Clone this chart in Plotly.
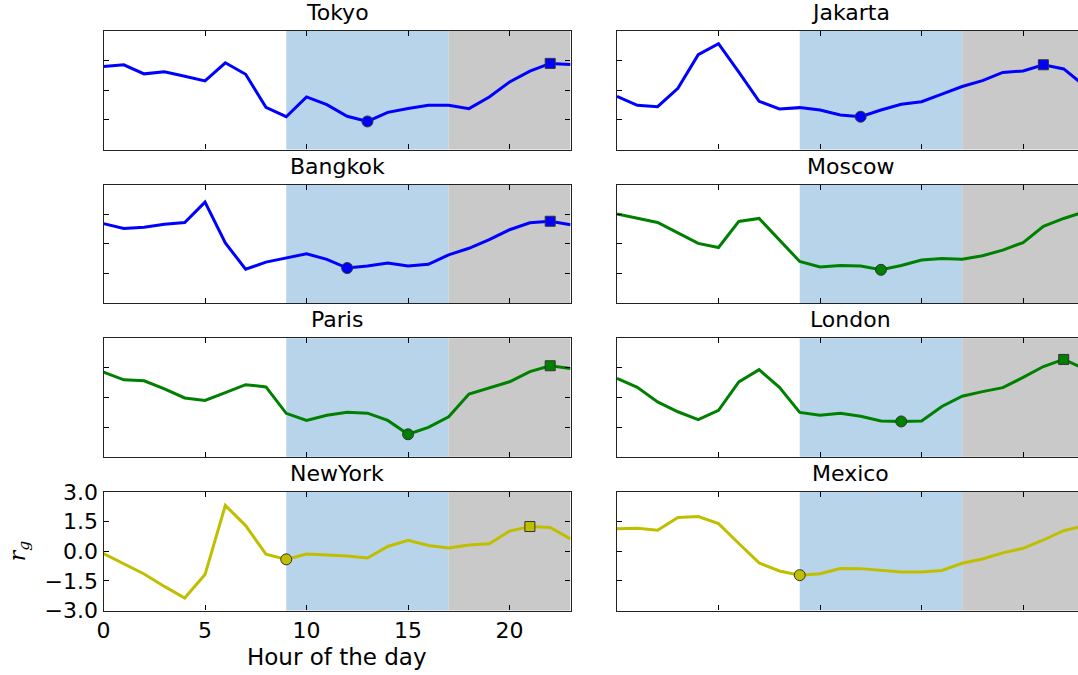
import plotly.graph_objects as go

W, H = 1078, 675

hours = list(range(24))

cities = ["Tokyo", "Jakarta", "Bangkok", "Moscow", "Paris", "London", "NewYork", "Mexico"]

tokyo = [1.20, 1.29, 0.83, 0.93, 0.71, 0.47, 1.39, 0.81, -0.86, -1.34, -0.34, -0.73,
         -1.32, -1.58, -1.12, -0.92, -0.76, -0.76, -0.93, -0.34, 0.42, 0.97, 1.36, 1.31]
jakarta = [-0.31, -0.76, -0.83, 0.10, 1.80, 2.36, 0.92, -0.56, -0.95, -0.88, -1.00, -1.25,
           -1.34, -1.00, -0.71, -0.58, -0.20, 0.19, 0.49, 0.90, 0.98, 1.29, 1.08, 0.25]
bangkok = [1.03, 0.78, 0.85, 1.00, 1.08, 2.12, 0.05, -1.28, -0.92, -0.70, -0.50, -0.78,
           -1.22, -1.12, -0.97, -1.12, -1.03, -0.55, -0.22, 0.22, 0.72, 1.07, 1.15, 0.97]
moscow = [1.52, 1.31, 1.09, 0.56, 0.03, -0.18, 1.14, 1.29, 0.18, -0.89, -1.17, -1.09,
          -1.12, -1.31, -1.09, -0.81, -0.74, -0.78, -0.60, -0.31, 0.07, 0.89, 1.29, 1.62]
paris = [1.29, 0.90, 0.85, 0.44, -0.02, -0.15, 0.25, 0.65, 0.54, -0.80, -1.16, -0.90,
         -0.75, -0.79, -1.16, -1.86, -1.51, -0.97, 0.18, 0.50, 0.80, 1.31, 1.61, 1.47]
london = [0.97, 0.52, -0.22, -0.72, -1.12, -0.65, 0.79, 1.41, 0.52, -0.75, -0.90, -0.79,
          -0.95, -1.19, -1.21, -1.19, -0.45, 0.07, 0.30, 0.50, 1.02, 1.57, 1.93, 1.46]
newyork = [-0.12, -0.62, -1.15, -1.78, -2.37, -1.18, 2.32, 1.30, -0.15, -0.41, -0.14, -0.19,
           -0.24, -0.34, 0.24, 0.55, 0.29, 0.17, 0.32, 0.38, 1.02, 1.25, 1.20, 0.62]
mexico = [1.14, 1.17, 1.06, 1.71, 1.76, 1.40, 0.39, -0.59, -1.00, -1.21, -1.14, -0.87,
          -0.88, -0.95, -1.05, -1.05, -0.97, -0.61, -0.39, -0.08, 0.15, 0.57, 1.04, 1.29]

series = [tokyo, jakarta, bangkok, moscow, paris, london, newyork, mexico]
line_colors = ["#0000ff", "#0000ff", "#0000ff", "#008000", "#008000", "#008000", "#bfbf00", "#bfbf00"]

work_start, work_end, day_end = 9, 17, 23
y_ticks = [-3.0, -1.5, 0.0, 1.5, 3.0]
y_tick_labels = ["\u22123.0", "\u22121.5", "0.0", "1.5", "3.0"]
x_ticks = [0, 5, 10, 15, 20]

# layout geometry (pixels)
col_left = [103.5, 617.0]
col_right = [570.5, 1078.0]
row_top = [31.0, 184.7, 338.3, 492.0]
row_h = 118.5
px_per_hour = (col_right[0] - col_left[0]) / 23.0
right_max = (col_right[1] - col_left[1]) / px_per_hour

fig = go.Figure()
layout = dict(
    width=W, height=H, margin=dict(l=0, r=0, t=0, b=0),
    paper_bgcolor="white", plot_bgcolor="white", showlegend=False,
    font=dict(family="DejaVu Sans", color="black"),
)
shapes = []
annotations = []

for i, (name, vals, col) in enumerate(zip(cities, series, line_colors)):
    r, c = divmod(i, 2)
    k = i + 1
    xa = "xaxis" if k == 1 else f"xaxis{k}"
    ya = "yaxis" if k == 1 else f"yaxis{k}"
    xr = "x" if k == 1 else f"x{k}"
    yr = "y" if k == 1 else f"y{k}"
    top = row_top[r]
    bot = top + row_h
    dom_x = [col_left[c] / W, col_right[c] / W]
    dom_y = [1 - bot / H, 1 - top / H]
    bottom_left = (r == 3 and c == 0)
    xmax = 23 if c == 0 else right_max
    layout[xa] = dict(
        domain=dom_x, range=[0, xmax], anchor=yr, tickvals=x_ticks,
        showticklabels=bottom_left, ticks="inside", ticklen=5, tickcolor="black",
        showline=True, linecolor="#222", linewidth=1.3, mirror="ticks",
        showgrid=False, zeroline=False, automargin=False,
        tickfont=dict(size=22, family="DejaVu Sans"),
    )
    layout[ya] = dict(
        domain=dom_y, range=[-3, 3], anchor=xr, tickvals=y_ticks, ticktext=y_tick_labels,
        showticklabels=bottom_left, ticks="inside", ticklen=5, tickcolor="black",
        showline=True, linecolor="#222", linewidth=1.3,
        mirror=("ticks" if c == 0 else False),
        showgrid=False, zeroline=False, automargin=False,
        tickfont=dict(size=22, family="DejaVu Sans"),
    )
    shapes.append(dict(type="rect", xref=xr, yref=f"{yr} domain", x0=work_start, x1=work_end,
                       y0=0, y1=1, fillcolor="#b8d4ea", line=dict(width=0), layer="below"))
    shapes.append(dict(type="rect", xref=xr, yref=f"{yr} domain", x0=work_end, x1=min(day_end, xmax),
                       y0=0, y1=1, fillcolor="#c9c9c9", line=dict(width=0), layer="below"))
    fig.add_trace(go.Scatter(x=hours, y=vals, mode="lines", line=dict(color=col, width=3),
                             xaxis=xr, yaxis=yr, hoverinfo="skip"))
    # minimum during working hours (circle), maximum during evening (square)
    work_idx = [h for h in hours if work_start <= h <= work_end]
    eve_idx = [h for h in hours if work_end <= h <= day_end]
    hmin = min(work_idx, key=lambda h: vals[h])
    hmax = max(eve_idx, key=lambda h: vals[h])
    fig.add_trace(go.Scatter(x=[hmin], y=[vals[hmin]], mode="markers",
                             marker=dict(symbol="circle", size=11, color=col,
                                         line=dict(color="#333", width=1)),
                             xaxis=xr, yaxis=yr, hoverinfo="skip"))
    fig.add_trace(go.Scatter(x=[hmax], y=[vals[hmax]], mode="markers",
                             marker=dict(symbol="square", size=10, color=col,
                                         line=dict(color="#333", width=1)),
                             xaxis=xr, yaxis=yr, hoverinfo="skip"))
    cx = (col_left[c] + col_left[c] + 23 * px_per_hour) / 2 / W
    annotations.append(dict(text=name, xref="paper", yref="paper", x=cx, y=1 - (top - 4) / H,
                            xanchor="center", yanchor="bottom", showarrow=False,
                            font=dict(size=22, family="DejaVu Sans", color="black")))

annotations.append(dict(text="Hour of the day", xref="paper", yref="paper",
                        x=(col_left[0] + col_right[0]) / 2 / W, y=1 - 657 / H,
                        xanchor="center", yanchor="middle", showarrow=False,
                        font=dict(size=23, family="DejaVu Sans", color="black")))
annotations.append(dict(text="<i>r<sub>g</sub></i>", xref="paper", yref="paper",
                        x=19 / W, y=1 - (row_top[3] + row_h / 2) / H, textangle=-90,
                        xanchor="center", yanchor="middle", showarrow=False,
                        font=dict(size=22, family="DejaVu Serif", color="black")))

layout["shapes"] = shapes
layout["annotations"] = annotations
fig.update_layout(**layout)
fig.write_html("out.html")
